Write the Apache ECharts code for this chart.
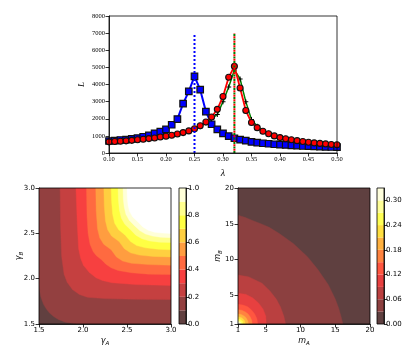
<!DOCTYPE html>
<html><head><meta charset="utf-8">
<script src="https://cdn.jsdelivr.net/npm/echarts@6/dist/echarts.min.js"></script>
<style>html,body{margin:0;padding:0;background:#fff}#c{width:415px;height:358px}</style>
</head><body><div id="c"></div>
<script>
// ---------- top panel data ----------
const lambdas = [0.10,0.11,0.12,0.13,0.14,0.15,0.16,0.17,0.18,0.19,0.20,0.21,0.22,0.23,0.24,0.25,0.26,0.27,0.28,0.29,0.30,0.31,0.32,0.33,0.34,0.35,0.36,0.37,0.38,0.39,0.40,0.41,0.42,0.43,0.44,0.45,0.46,0.47,0.48,0.49,0.50];
const lossBlue = [700,720,760,780,820,870,950,1030,1150,1250,1380,1650,1980,2880,3600,4480,3700,2420,1680,1380,1150,980,860,780,720,650,610,570,540,510,490,470,450,430,410,400,390,370,360,350,340];
const lossRed = [650,670,690,710,740,770,800,840,880,930,980,1040,1110,1190,1290,1420,1590,1810,2100,2550,3300,4420,5060,3800,2480,1780,1480,1270,1120,1000,900,830,770,720,670,630,590,560,530,500,480];
const lossGreen = [640,660,680,700,730,760,790,830,870,920,970,1030,1100,1170,1270,1390,1540,1750,2000,2250,3000,3850,4850,4320,3000,1950,1560,1320,1150,1020,920,840,780,720,670,630,590,560,530,500,480];
const peakBlue = 0.25, peakRed = 0.32, peakLineTop = 7000;

// ---------- bottom-left (gamma) contour data ----------
const gammaLevels = [0,0.1,0.2,0.3,0.4,0.5,0.6,0.7,0.8,0.9,1.0];
const gammaTicks = [1.5,2.0,2.5,3.0];
const gammaCbarTicks = [0,0.2,0.4,0.6,0.8,1.0];
const gIso01 = [[1.5,1.92],[1.52,1.8],[1.55,1.72],[1.58,1.67],[1.62,1.62],[1.67,1.58],[1.72,1.55],[1.8,1.52],[1.92,1.5]];
const gIso02 = [[1.74,3.0],[1.745,2.6],[1.757,2.25],[1.785,2.05],[1.82,1.96],[1.88,1.88],[1.96,1.825],[2.05,1.795],[2.25,1.78],[2.6,1.772],[3.0,1.77]];
const gIso03 = [[1.92,3.0],[1.935,2.6],[1.95,2.33],[1.975,2.22],[2.005,2.148],[2.07,2.07],[2.148,2.01],[2.22,1.98],[2.33,1.955],[2.6,1.935],[3.0,1.925]];
const gIso04 = [[2.04,3.0],[2.045,2.7],[2.058,2.5],[2.08,2.38],[2.115,2.3],[2.15,2.255],[2.21,2.21],[2.26,2.16],[2.32,2.12],[2.4,2.09],[2.55,2.065],[2.75,2.05],[3.0,2.045]];
const gIso05 = [[2.145,3.0],[2.15,2.75],[2.165,2.55],[2.19,2.45],[2.235,2.38],[2.32,2.32],[2.38,2.24],[2.45,2.195],[2.55,2.17],[2.75,2.155],[3.0,2.148]];
const gIso06 = [[2.237,3.0],[2.242,2.8],[2.255,2.64],[2.28,2.54],[2.325,2.47],[2.41,2.41],[2.47,2.33],[2.54,2.285],[2.64,2.26],[2.8,2.245],[3.0,2.24]];
const gIso07 = [[2.32,3.0],[2.325,2.85],[2.337,2.71],[2.36,2.61],[2.405,2.54],[2.48,2.48],[2.54,2.41],[2.61,2.365],[2.71,2.34],[2.85,2.325],[3.0,2.318]];
const gIso08 = [[2.398,3.0],[2.402,2.87],[2.413,2.76],[2.435,2.67],[2.475,2.6],[2.54,2.54],[2.6,2.48],[2.67,2.44],[2.76,2.415],[2.87,2.402],[3.0,2.398]];
const gIso09 = [[2.455,3.0],[2.458,2.88],[2.468,2.79],[2.488,2.71],[2.525,2.645],[2.585,2.585],[2.645,2.53],[2.71,2.493],[2.79,2.47],[2.88,2.458],[3.0,2.452]];
const gIso10 = [[2.5,3.0],[2.503,2.9],[2.512,2.81],[2.53,2.74],[2.565,2.68],[2.625,2.625],[2.68,2.57],[2.74,2.535],[2.81,2.513],[2.9,2.503],[3.0,2.497]];

// ---------- bottom-right (m) contour data ----------
const mLevels = [0,0.03,0.06,0.09,0.12,0.15,0.18,0.21,0.24,0.27,0.30,0.33];
const mTicks = [1,5,10,15,20];
const mCbarTicks = [0,0.06,0.12,0.18,0.24,0.30];
const mIso003 = [[1,16.2],[2,15.9],[3,15.5],[4.2,15.05],[5.5,14.5],[7,13.6],[9,12.2],[11,10.4],[12.5,8.6],[14,6.5],[15,4.5],[15.5,3.2],[15.7,2.5],[15.9,1.8],[16.1,1]];
const mIso006 = [[1,7.85],[2.5,7.6],[4.45,6.7],[5.6,5.6],[6.5,4.5],[7.1,3.4],[7.6,2.1],[7.85,1]];
const mIso009 = [[1,5.3],[2.1,5.15],[3.1,4.65],[3.95,3.95],[4.6,3.1],[5.0,2.1],[5.07,1]];
const mIso012 = [[1,3.75],[1.73,3.65],[2.4,3.4],[2.95,2.95],[3.4,2.4],[3.72,1.73],[3.85,1]];
const mIso015 = [[1,3.0],[1.52,2.93],[2.0,2.72],[2.42,2.42],[2.75,2.0],[2.97,1.52],[3.05,1]];
const mIso018 = [[1,2.4],[1.38,2.35],[1.73,2.2],[2.02,2.02],[2.25,1.73],[2.42,1.38],[2.5,1]];
const mIso021 = [[1,2.0],[1.27,1.96],[1.51,1.86],[1.71,1.71],[1.88,1.51],[2.0,1.27],[2.05,1]];
const mIso024 = [[1,1.68],[1.19,1.65],[1.36,1.58],[1.5,1.5],[1.61,1.37],[1.7,1.19],[1.75,1]];
const mIso027 = [[1,1.43],[1.12,1.41],[1.23,1.37],[1.32,1.32],[1.4,1.24],[1.46,1.12],[1.5,1]];
const mIso030 = [[1,1.26],[1.1,1.25],[1.19,1.19],[1.26,1.1],[1.3,1]];
const mIso033 = [[1,1.11],[1.08,1.08],[1.12,1]];

// ---------- styling helpers ----------
const FONT = 'DejaVu Sans';
const SERIF = 'Liberation Serif';
function hot(t){
  const k1 = 0.365079, k2 = 0.746032;
  const r = t < k1 ? 0.0416 + (1-0.0416)*t/k1 : 1;
  const g = t < k1 ? 0 : (t < k2 ? (t-k1)/(k2-k1) : 1);
  const b = t < k2 ? 0 : (t-k2)/(1-k2);
  const a = 0.75;
  const f = v => Math.round(255*(a*v + (1-a)));
  return 'rgb(' + f(r) + ',' + f(g) + ',' + f(b) + ')';
}
function bandColors(levels){
  const lo = levels[0], hi = levels[levels.length-1];
  const out = [];
  for (let i=0;i<levels.length-1;i++) out.push(hot(((levels[i]+levels[i+1])/2 - lo)/(hi-lo)));
  return out;
}
const gColors = bandColors(gammaLevels);
const mColors = bandColors(mLevels);

function polySeries(xi, yi, pts, color){
  return {type:'custom', xAxisIndex:xi, yAxisIndex:yi, data: pts, encode:{x:0,y:1}, clip:true, silent:true, z:1,
    renderItem:(params, api)=>{
      if (params.dataIndex !== 0) return null;
      return {type:'polygon', shape:{points: pts.map(p=>api.coord(p))}, style:{fill:color, stroke:color, lineWidth:0.4}};
    }};
}
function cbarSeries(xi, yi, levels, colors){
  const data = levels.slice(0,-1).map((lo,i)=>[0, lo, levels[i+1]]);
  return {type:'custom', xAxisIndex:xi, yAxisIndex:yi, data, encode:{x:0,y:1}, silent:true, z:1,
    renderItem:(params, api)=>{
      const p1 = api.coord([0, api.value(2)]);
      const p2 = api.coord([1, api.value(1)]);
      return {type:'rect', shape:{x:p1[0], y:p1[1], width:p2[0]-p1[0], height:p2[1]-p1[1]}, style:{fill:colors[params.dataIndex]}};
    }};
}
const tick = {show:true, length:3.5, lineStyle:{color:'#000', width:0.8}};
const line = {show:true, onZero:false, lineStyle:{color:'#000', width:0.8}};
const subRich = {
  i:{fontFamily:FONT, fontSize:8, fontStyle:'italic', color:'#000', lineHeight:11, verticalAlign:'bottom'},
  s:{fontFamily:FONT, fontSize:5.5, fontStyle:'italic', color:'#000', lineHeight:11, verticalAlign:'bottom', padding:[0,0,-2,0]}
};

// ---------- build ----------
const grids = [
  {left:109, top:16, width:228, height:137},
  {left:39, top:188, width:132, height:136},
  {left:179, top:188, width:7, height:136},
  {left:238, top:188, width:132, height:136},
  {left:377, top:188, width:7, height:136}
].map(g=>Object.assign({show:true, borderColor:'#000', borderWidth:0.8, z:10, backgroundColor:'transparent'}, g));

const xAxes = [
  {gridIndex:0, type:'value', min:0.1, max:0.5, interval:0.05, axisLine:line, axisTick:tick, splitLine:{show:false},
   axisLabel:{fontFamily:SERIF, fontSize:6.5, color:'#000', margin:3, formatter:v=>v.toFixed(2)},
   name:'λ', nameLocation:'middle', nameGap:15, nameMoveOverlap:false,
   nameTextStyle:{fontFamily:SERIF, fontSize:10, fontStyle:'italic', color:'#000'}},
  {gridIndex:1, type:'value', min:1.5, max:3.0, interval:0.5, axisLine:line, axisTick:tick, splitLine:{show:false},
   axisLabel:{fontFamily:FONT, fontSize:7, color:'#000', margin:2.5, formatter:v=>v.toFixed(1)},
   name:'{i|γ}{s|A}', nameLocation:'middle', nameGap:10, nameMoveOverlap:false, nameTextStyle:{rich:subRich}},
  {gridIndex:2, type:'value', min:0, max:1, show:false},
  {gridIndex:3, type:'value', min:1, max:20, axisLine:line, splitLine:{show:false},
   axisTick:Object.assign({customValues:mTicks}, tick),
   axisLabel:{fontFamily:FONT, fontSize:7, color:'#000', margin:2.5, customValues:mTicks},
   name:'{i|m}{s|A}', nameLocation:'middle', nameGap:10, nameMoveOverlap:false, nameTextStyle:{rich:subRich}},
  {gridIndex:4, type:'value', min:0, max:1, show:false}
];
const yAxes = [
  {gridIndex:0, type:'value', min:0, max:8000, interval:1000, axisLine:line, axisTick:tick, splitLine:{show:false},
   axisLabel:{fontFamily:SERIF, fontSize:6.5, color:'#000', margin:4, formatter:v=>String(v)},
   name:'L', nameLocation:'middle', nameGap:23, nameMoveOverlap:false,
   nameTextStyle:{fontFamily:SERIF, fontSize:9, fontStyle:'italic', color:'#000'}},
  {gridIndex:1, type:'value', min:1.5, max:3.0, interval:0.5, axisLine:line, axisTick:tick, splitLine:{show:false},
   axisLabel:{fontFamily:FONT, fontSize:7, color:'#000', margin:4, formatter:v=>v.toFixed(1)},
   name:'{i|γ}{s|B}', nameLocation:'middle', nameGap:16, nameMoveOverlap:false, nameTextStyle:{rich:subRich}},
  {gridIndex:2, type:'value', position:'right', min:0, max:1, axisLine:line, splitLine:{show:false},
   axisTick:Object.assign({customValues:gammaCbarTicks}, tick),
   axisLabel:{fontFamily:FONT, fontSize:7, color:'#000', margin:2, customValues:gammaCbarTicks, formatter:v=>v.toFixed(1)}},
  {gridIndex:3, type:'value', min:1, max:20, axisLine:line, splitLine:{show:false},
   axisTick:Object.assign({customValues:mTicks}, tick),
   axisLabel:{fontFamily:FONT, fontSize:7, color:'#000', margin:4, customValues:mTicks},
   name:'{i|m}{s|B}', nameLocation:'middle', nameGap:16, nameMoveOverlap:false, nameTextStyle:{rich:subRich}},
  {gridIndex:4, type:'value', position:'right', min:0, max:0.33, axisLine:line, splitLine:{show:false},
   axisTick:Object.assign({customValues:mCbarTicks}, tick),
   axisLabel:{fontFamily:FONT, fontSize:7, color:'#000', margin:2, customValues:mCbarTicks, formatter:v=>v.toFixed(2)}}
];

const pair = arr => lambdas.map((x,i)=>[x, arr[i]]);
const crossPath = 'path://M4,0H6V4H10V6H6V10H4V6H0V4H4Z';
const series = [];
// top panel
series.push({type:'line', xAxisIndex:0, yAxisIndex:0, data:pair(lossBlue), symbol:'rect', symbolSize:6.5,
  lineStyle:{color:'#0000ff', width:2}, itemStyle:{color:'#0000ff', borderColor:'#111', borderWidth:1.2}, z:3});
series.push({type:'line', xAxisIndex:0, yAxisIndex:0, data:pair(lossGreen), symbol:crossPath, symbolSize:5,
  lineStyle:{color:'#008000', width:1.5}, itemStyle:{color:'#000'}, z:4});
series.push({type:'line', xAxisIndex:0, yAxisIndex:0, data:pair(lossRed), symbol:'circle', symbolSize:6,
  lineStyle:{color:'#ff0000', width:1.8}, itemStyle:{color:'#ff0000', borderColor:'#111', borderWidth:1.1}, z:5});
series.push({type:'line', xAxisIndex:0, yAxisIndex:0, data:[[peakBlue,0],[peakBlue,peakLineTop]], symbol:'none',
  lineStyle:{color:'#0000ff', width:2, type:[2,2]}, z:6});
series.push({type:'line', xAxisIndex:0, yAxisIndex:0, data:[[peakRed,0],[peakRed,peakLineTop]], symbol:'none',
  lineStyle:{color:'#008000', width:2, type:[2,2.5]}, z:6});
series.push({type:'line', xAxisIndex:0, yAxisIndex:0, data:[[peakRed,0],[peakRed,peakLineTop]], symbol:'none',
  lineStyle:{color:'#ff0000', width:2, type:[2,2.5], dashOffset:2.2}, z:7});

// bottom-left contour
const gRegions = [
  [[1.5,1.5],[3,1.5],[3,3],[1.5,3]],
  gIso01.concat([[3,1.5],[3,3],[1.5,3]]),
  gIso02.concat([[3,3]]), gIso03.concat([[3,3]]), gIso04.concat([[3,3]]), gIso05.concat([[3,3]]),
  gIso06.concat([[3,3]]), gIso07.concat([[3,3]]), gIso08.concat([[3,3]]), gIso09.concat([[3,3]]),
  gIso10.concat([[3,3]])
];
gRegions.forEach((r,i)=>series.push(polySeries(1,1,r, i < gColors.length ? gColors[i] : '#ffffff')));
series.push(cbarSeries(2,2,gammaLevels,gColors));

// bottom-right contour
const mRegions = [
  [[1,1],[20,1],[20,20],[1,20]],
  [[1,1]].concat(mIso003), [[1,1]].concat(mIso006), [[1,1]].concat(mIso009), [[1,1]].concat(mIso012),
  [[1,1]].concat(mIso015), [[1,1]].concat(mIso018), [[1,1]].concat(mIso021), [[1,1]].concat(mIso024),
  [[1,1]].concat(mIso027), [[1,1]].concat(mIso030), [[1,1]].concat(mIso033)
];
mRegions.forEach((r,i)=>series.push(polySeries(3,3,r, i < mColors.length ? mColors[i] : '#ffffff')));
series.push(cbarSeries(4,4,mLevels,mColors));

const chart = echarts.init(document.getElementById('c'), null, {renderer:'canvas'});
chart.setOption({animation:false, backgroundColor:'#ffffff', grid:grids, xAxis:xAxes, yAxis:yAxes, series});
</script>
</body></html>
